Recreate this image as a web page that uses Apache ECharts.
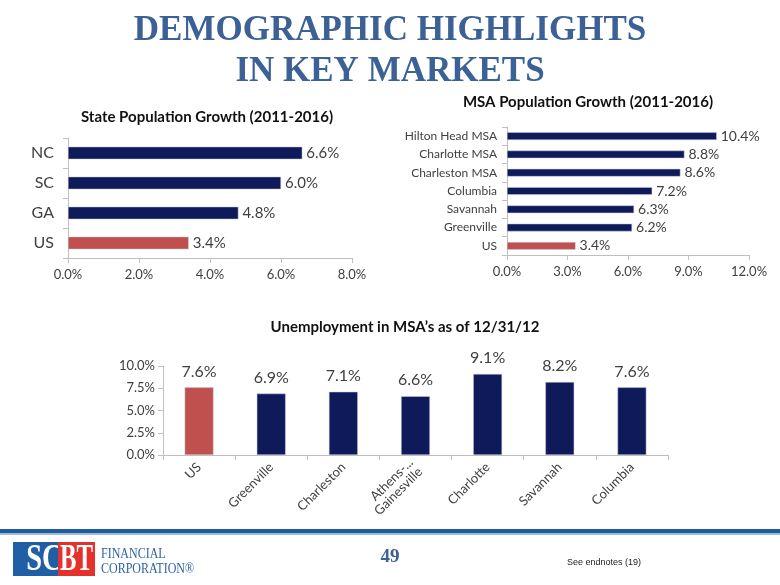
<!DOCTYPE html>
<html><head><meta charset="utf-8">
<script src="https://cdn.jsdelivr.net/npm/echarts@6/dist/echarts.min.js"></script>
<style>html,body{margin:0;padding:0;background:#fff}#c{width:780px;height:585px}</style>
</head><body><div id="c"></div>
<script>
var stateCats = ['NC','SC','GA','US'];
var stateVals = [6.6,6.0,4.8,3.4];
var stateTicks = [0,2,4,6,8];
var msaCats = ['Hilton Head MSA','Charlotte MSA','Charleston MSA','Columbia','Savannah','Greenville','US'];
var msaVals = [10.4,8.8,8.6,7.2,6.3,6.2,3.4];
var msaTicks = [0,3,6,9,12];
var unempCats = ['US','Greenville','Charleston','Athens-...\nGainesville','Charlotte','Savannah','Columbia'];
var unempVals = [7.6,6.9,7.1,6.6,9.1,8.2,7.6];
var unempTicks = [0,2.5,5,7.5,10];

var NAVY = '#0e1a5a', RED = '#c0504d', AX = '#bfbfbf', TX = '#404040';
var FONT = 'Lato, "Noto Sans", sans-serif';
function colorFn(p){ return p.name === 'US' ? RED : NAVY; }
function pct(v){ return Number(v).toFixed(1) + '%'; }

var chart = echarts.init(document.getElementById('c'), null, {renderer:'canvas'});
var axLine = {show:true, lineStyle:{color:AX, width:1}};
var axTick = {show:true, lineStyle:{color:AX}, length:5};

var option = {
  animation:false,
  backgroundColor:'#fff',
  textStyle:{fontFamily:FONT},
  grid:[
    {left:68, top:138, width:284, height:120},
    {left:507, top:127, width:242, height:128},
    {left:163, top:366, width:505, height:89}
  ],
  xAxis:[
    {gridIndex:0, type:'value', min:stateTicks[0], max:stateTicks[stateTicks.length-1], interval:2,
     axisLine:axLine, axisTick:axTick, splitLine:{show:false},
     axisLabel:{formatter:pct, color:TX, fontSize:13, fontFamily:FONT, margin:10}},
    {gridIndex:1, type:'value', min:msaTicks[0], max:msaTicks[msaTicks.length-1], interval:3,
     axisLine:axLine, axisTick:axTick, splitLine:{show:false},
     axisLabel:{formatter:pct, color:TX, fontSize:13, fontFamily:FONT, margin:10}},
    {gridIndex:2, type:'category', data:unempCats,
     axisLine:axLine, axisTick:axTick, splitLine:{show:false},
     axisLabel:{rotate:45, interval:0, color:TX, fontSize:13, fontFamily:FONT, margin:10, lineHeight:13}}
  ],
  yAxis:[
    {gridIndex:0, type:'category', data:stateCats, inverse:true,
     axisLine:axLine, axisTick:axTick,
     axisLabel:{color:TX, fontSize:16, fontFamily:FONT, margin:14}},
    {gridIndex:1, type:'category', data:msaCats, inverse:true,
     axisLine:axLine, axisTick:axTick,
     axisLabel:{color:TX, fontSize:12, fontFamily:FONT, margin:10}},
    {gridIndex:2, type:'value', min:unempTicks[0], max:unempTicks[unempTicks.length-1], interval:2.5,
     axisLine:axLine, axisTick:axTick, splitLine:{show:false},
     axisLabel:{formatter:pct, color:TX, fontSize:13, fontFamily:FONT, margin:8}}
  ],
  series:[
    {type:'bar', xAxisIndex:0, yAxisIndex:0, data:stateVals, barWidth:'42%',
     itemStyle:{color:colorFn, borderColor:'#c8cce0', borderWidth:0.5},
     label:{show:true, position:'right', distance:4, formatter:function(p){return pct(p.value);}, color:TX, fontSize:15, fontFamily:FONT}},
    {type:'bar', xAxisIndex:1, yAxisIndex:1, data:msaVals, barWidth:'42%',
     itemStyle:{color:colorFn, borderColor:'#c8cce0', borderWidth:0.5},
     label:{show:true, position:'right', distance:4, formatter:function(p){return pct(p.value);}, color:TX, fontSize:14, fontFamily:FONT}},
    {type:'bar', xAxisIndex:2, yAxisIndex:2, data:unempVals, barWidth:'40%',
     itemStyle:{color:colorFn, borderColor:'#c8cce0', borderWidth:0.5},
     label:{show:true, position:'top', distance:8, formatter:function(p){return pct(p.value);}, color:TX, fontSize:16, fontFamily:FONT}}
  ],
  graphic:[
    {type:'text', x:390, y:31, style:{text:'DEMOGRAPHIC HIGHLIGHTS', font:'bold 35px "Liberation Serif", serif', fill:'#3b6196', align:'center', verticalAlign:'middle'}},
    {type:'text', x:390, y:72, style:{text:'IN KEY MARKETS', font:'bold 35px "Liberation Serif", serif', fill:'#3b6196', align:'center', verticalAlign:'middle'}},
    {type:'text', x:207, y:117, style:{text:'State Population Growth (2011-2016)', font:'bold 15px '+FONT, fill:'#111', align:'center', verticalAlign:'middle'}},
    {type:'text', x:588, y:102, style:{text:'MSA Population Growth (2011-2016)', font:'bold 15px '+FONT, fill:'#111', align:'center', verticalAlign:'middle'}},
    {type:'text', x:405, y:327, style:{text:'Unemployment in MSA\u2019s as of 12/31/12', font:'bold 15px '+FONT, fill:'#111', align:'center', verticalAlign:'middle'}},
    {type:'rect', shape:{x:0, y:529, width:780, height:4}, style:{fill:'#1f5c99'}},
    {type:'rect', shape:{x:0, y:533, width:780, height:2}, style:{fill:'#9dbbe0'}},
    {type:'rect', shape:{x:13, y:542, width:45, height:34}, style:{fill:'#1f5fa6'}},
    {type:'text', x:35.5, y:560, scaleX:0.75, originX:35.5, style:{text:'SC', font:'bold 38px "Liberation Serif", serif', fill:'#fff', align:'center', verticalAlign:'middle'}},
    {type:'rect', shape:{x:58, y:542, width:37, height:34}, style:{fill:'#e4312b'}},
    {type:'text', x:76.5, y:560, scaleX:0.65, style:{text:'BT', font:'bold 38px "Liberation Serif", serif', fill:'#fff', align:'center', verticalAlign:'middle'}},
    {type:'text', x:101, y:554, scaleX:0.8, style:{text:'FINANCIAL', font:'15px "Liberation Serif", serif', fill:'#2d62a3', verticalAlign:'middle'}},
    {type:'text', x:101, y:569, scaleX:0.8, style:{text:'CORPORATION\u00ae', font:'15px "Liberation Serif", serif', fill:'#2d62a3', verticalAlign:'middle'}},
    {type:'text', x:390, y:557, style:{text:'49', font:'bold 19px "Liberation Serif", serif', fill:'#3b6196', align:'center', verticalAlign:'middle'}},
    {type:'text', x:567, y:563, style:{text:'See endnotes (19)', font:'9px "Liberation Sans", sans-serif', fill:'#222', verticalAlign:'middle'}}
  ]
};
chart.setOption(option);
</script>
</body></html>
